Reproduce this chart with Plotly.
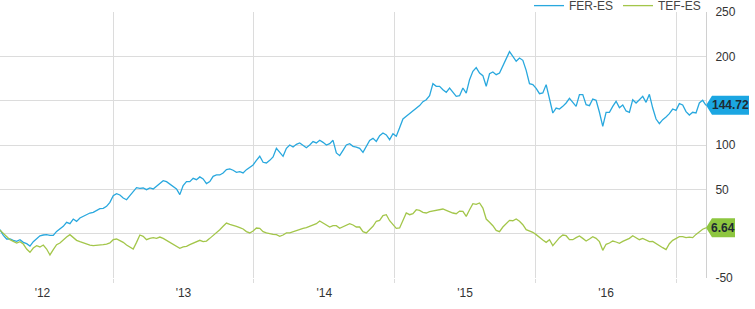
import pandas as pd
import plotly.graph_objects as go

series_names = ["FER-ES", "TEF-ES"]
start_date = "2012-03-14"
end_date = "2017-03-18"

fer_values = [
    4.5, -2, -6, -6, -7.5, -8.6, -6.8, -9.8, -11.3, -14,
    -9, -5.5, -2.5, -1.5, -1, -2, -2, 2.6, 5.3, 8.3,
    12.8, 11.3, 16.5, 13.9, 17.7, 19.5, 21.5,
    23.3, 24, 26.3, 28.2, 28.6, 30.8, 35.3, 42.9, 45.1, 43.6,
    40.2, 38.3, 42.9, 48.1, 51.9, 51.1, 51.5, 49.6, 51.5, 50.4,
    53.4, 56.4, 59.8, 58.6, 55.6, 52.6,
    50.4, 44, 54.2, 58.7, 58.7, 62.4, 60.9, 64, 61.7, 56.4,
    58.7, 64.7, 66.2, 66.2, 68.5, 72.2, 73, 71.5, 69.2, 70,
    68.5, 72.2, 75.2, 77.5, 82.7, 87.3, 80.5,
    79.7, 82.7, 86.5, 96.3, 91.8, 87.2, 96.3, 100, 97.8, 100.8,
    102.3, 100, 97, 100, 103.8, 102.3, 105.3, 103, 100, 101.5,
    105.3, 91, 88, 94, 100, 101.5,
    98.5, 97.7, 96.2, 91.7, 99.2, 105.2, 107.5, 104.1, 110.5, 113.5,
    111.3, 106, 112.8, 109.8, 119.5, 129.3, 132.3, 135.3, 137.6, 141.3,
    144.4, 148.9, 151.1, 155.6, 169.2, 166.2,
    166.2, 162.4, 159.4, 164.3, 159.4, 154.9, 155.6, 164.3, 158.6, 173.7,
    183.1, 187.2, 181.2, 178.2, 166.2, 180.4, 182.3, 179.3, 181.2, 189.5,
    198.1, 205.3, 200, 194.4, 198.1, 195.5, 184.2,
    169.2, 168.1, 163.9, 157.9, 158.7, 168.1, 153, 136.1, 141.7, 140.6,
    143.6, 147.4, 152.6, 147.4, 143.6, 156.8, 156.8, 145.5, 144.4, 151.9,
    150.4, 136.9, 121.1, 136.9, 136.9, 143.6,
    149.3, 142.1, 145.1, 138.4, 136.9, 151.1, 147.4, 151.1, 154.9, 148.1,
    157.2, 141.7, 129.3, 124.1, 128.6, 131.6, 135.3, 140.6, 139.1, 146.6,
    145.1, 137.6, 133.8, 136.9, 136.1, 147.4, 150.4,
    144.72,
]

tef_values = [
    4, 0, -3.8, -6.8, -8.7, -10.5, -9, -11.7, -17.3, -21,
    -16.2, -13.5, -15, -12.8, -17.3, -24, -18, -12.4, -10.5, -6.8,
    -3.8, -1.1, -3.8, -7.5, -9, -10.5, -12,
    -12.8, -13.5, -13.2, -13.5, -12.4, -11.7, -10.5, -6.8, -6, -7.9,
    -9.8, -12.8, -15, -17.3, -9.8, -1.5, -3, -6.8, -5.3, -4.5,
    -5.3, -3.8, -5.3, -7.5, -9, -11.7,
    -14.3, -16.5, -15, -14.3, -12.4, -10.5, -9, -7.5, -9, -8.3,
    -5.3, -2.3, 0.8, 4.5, 8.3, 12, 10.5, 9.8, 8.3, 6.8,
    5.3, 2.3, 0.8, 3, 6.4, 6, 2.3,
    0.8, -0.4, -0.8, -1.1, -3, -1.5, 0.8, 0.8, 2.3, 3.8,
    4.5, 6, 6.8, 8.3, 9.8, 11.3, 14.3, 12, 9.8, 7.5,
    9, 9, 6, 7.5, 9.8, 11.3,
    9.8, 7.5, 7.5, 2.3, 0.8, 4.5, 8.3, 14,
    15, 20.3, 21.4, 14.6, 10.5, 6, 6.4, 15, 23.3, 21.4,
    22.5, 27, 26.3, 24, 23.3, 24.8, 25.5, 27,
    27, 27.8, 26.3, 24.4, 23.3, 22.5, 25.5, 25.2, 19.5, 27,
    33.8, 33, 34.6, 28.9, 16.5, 12.8, 9, 3.7, 2.2, 7.5,
    11.3, 15, 14.6, 16.5, 13.9, 10.1, 4.5,
    3, 1.5, -1.1, -4.5, -7.2, -9.8, -6.8, -13.5, -8.3, -4.5,
    -1.5, -2.3, -6.8, -6.8, -4.5, -2.6, -5.3, -8.3, -6, -3.4,
    -5.3, -9, -18.8, -12, -10.5, -8.3,
    -9.4, -10.9, -8.7, -6.8, -5.3, -2.3, -4.5, -6.8, -5.3, -6.8,
    -9, -8.7, -11.3, -13.5, -15.8, -18, -11.3, -7.5, -5.3, -3.4,
    -3.4, -4.5, -3.8, -4.5, -0.8, 2.6, 5,
    6.64,
]

y_ticks = [-50, 0, 50, 100, 150, 200, 250]

dates = pd.date_range(start_date, end_date, periods=len(fer_values))

line_colors = ["#29a8de", "#a3c64a"]
badge_colors = ["#1ba6e2", "#8dc63f"]
FONT = "Arial, Liberation Sans, sans-serif"

fig = go.Figure()
for name, vals, col in zip(series_names, [fer_values, tef_values], line_colors):
    fig.add_trace(go.Scatter(x=dates, y=vals, mode="lines", name=name,
                             line=dict(color=col, width=1.3)))

last_vals = [fer_values[-1], tef_values[-1]]
tick_text = []
for v in y_ticks:
    hide = any(abs(v - lv) < 15 for lv in last_vals)
    tick_text.append("" if hide else str(v))

for lv, bc in zip(last_vals, badge_colors):
    txt = f"{lv:.2f}"
    w = 7 * len(txt) + 1
    fig.add_shape(type="path", xref="paper", yref="y",
                  xsizemode="pixel", ysizemode="pixel",
                  xanchor=1, yanchor=lv,
                  path=f"M0,0 L6,9.5 L{w},9.5 L{w},-9.5 L6,-9.5 Z",
                  fillcolor=bc, line=dict(width=0), layer="above")
    fig.add_annotation(x=1, xref="paper", y=lv, yref="y", text=f"<b>{txt}</b>",
                       showarrow=False, xanchor="center", xshift=(w + 5) / 2,
                       font=dict(family=FONT, size=12, color="#1e2a33"))

fig.update_layout(
    width=755, height=309,
    margin=dict(l=0, r=49, t=12, b=31, autoexpand=False),
    paper_bgcolor="white", plot_bgcolor="white",
    font=dict(family=FONT, size=12, color="#333"),
    showlegend=True,
    legend=dict(orientation="h", xanchor="right", x=1.0, yanchor="middle", y=1.024,
                font=dict(size=12, color="#444"), bgcolor="rgba(0,0,0,0)",
                itemwidth=30),
    xaxis=dict(type="date", range=[dates[0], dates[-1]],
               dtick="M12", tick0="2012-01-01", ticklabelmode="period",
               tickformat="'%y", showgrid=True, gridcolor="#dcdcdc", gridwidth=1,
               ticks="outside", ticklen=4, tickcolor="#dcdcdc",
               showline=False, zeroline=False,
               tickfont=dict(size=12, color="#333")),
    yaxis=dict(side="right", range=[-50, 250], tickvals=y_ticks, ticktext=tick_text,
               showgrid=True, gridcolor="#dcdcdc", gridwidth=1, zeroline=False,
               showline=True, linecolor="#d0d0d0", linewidth=1,
               ticks="", ticklabelstandoff=6,
               tickfont=dict(size=12, color="#333")),
)

fig.write_html("out.html")
